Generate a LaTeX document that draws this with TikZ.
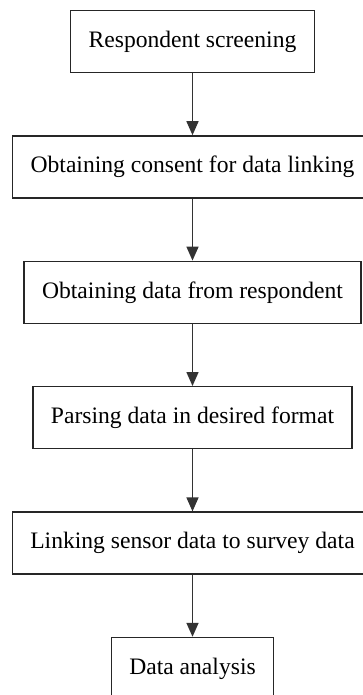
\documentclass[tikz,border=0pt]{standalone}
\usepackage{fontspec}
\setmainfont{Liberation Serif}
\usepackage{tikz}
\usetikzlibrary{arrows.meta,positioning}

\begin{document}
\begin{tikzpicture}[x=1pt,y=1pt,
   stage/.style={draw=black!85,line width=1.4pt,minimum height=62pt,inner xsep=18pt,
     font=\fontsize{23.6}{28}\selectfont},
   flow/.style={draw=black!80,line width=1.5pt,-{Triangle[length=14pt,width=12pt]}},
   node distance=62pt]
  \useasboundingbox (0,0) rectangle (362,-695);
  \node[stage] (scr) at (192.5,-41.5) {Respondent screening};
  \node[stage,below=of scr] (cons) {Obtaining consent for data linking};
  \node[stage,below=of cons] (obt) {Obtaining data from respondent};
  \node[stage,below=of obt] (pars) {Parsing data in desired format};
  \node[stage,below=of pars] (link) {Linking sensor data to survey data};
  \node[stage,below=of link] (ana) {Data analysis};
  \foreach \a/\b in {scr/cons,cons/obt,obt/pars,pars/link,link/ana}
    \draw[flow] (\a) -- (\b);
\end{tikzpicture}
\end{document}
